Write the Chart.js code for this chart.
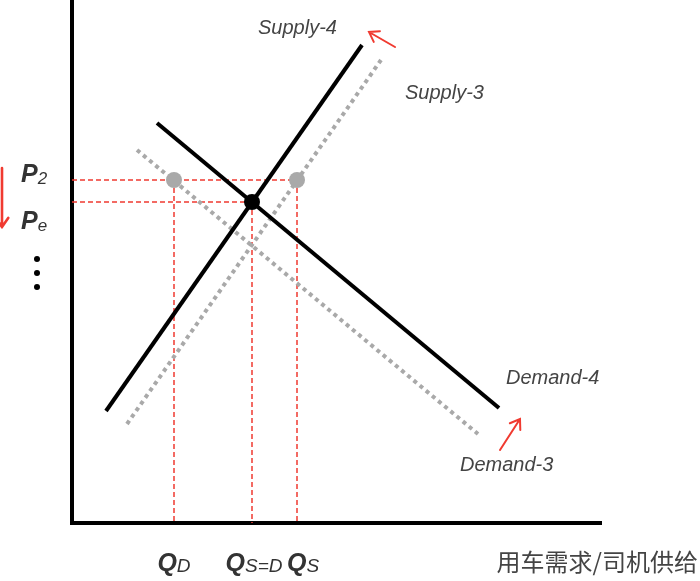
<!DOCTYPE html>
<html>
<head>
<meta charset="utf-8">
<script src="https://cdn.jsdelivr.net/npm/chart.js@4/dist/chart.umd.min.js"></script>
<style>
  body { margin: 0; background: #fff; }
  #wrap { width: 700px; height: 581px; position: relative; }
</style>
</head>
<body>
<div id="wrap"><canvas id="chart"></canvas></div>
<script>
// Axis ranges (data units)
const xMax = 530;
const yMax = 523;

// Curves: two end points each
const supply4 = [{x: 34, y: 112}, {x: 290, y: 478}];
const demand4 = [{x: 85, y: 400}, {x: 427, y: 115}];
const supply3 = [{x: 55, y: 99}, {x: 309, y: 463}];
const demand3 = [{x: 65, y: 373}, {x: 406, y: 89}];

// Tick labels on the axes
const priceSubs = ['2', 'e'];
const priceValues = [343, 321];
const qtySubs = ['D', 'S=D', 'S'];
const qtyValues = [102, 180, 225];

const curveNames = ['Supply-4', 'Supply-3', 'Demand-4', 'Demand-3'];
const axisTitle = '用车需求/司机供给';

// Points
const equilibrium = [{x: qtyValues[1], y: priceValues[1]}];
const shifted = [{x: qtyValues[0], y: priceValues[0]}, {x: qtyValues[2], y: priceValues[0]}];

const RED = '#f03a30';
const GREY = '#a9a9a9';

function redLine(pts) {
    return {
        data: pts, showLine: true, pointRadius: 0, borderColor: RED,
        borderWidth: 1.5, borderDash: [5, 3], order: 3, clip: false
    };
}

const datasets = [
    { data: equilibrium, pointRadius: 8, backgroundColor: '#000', borderWidth: 0, order: 0 },
    { data: shifted, pointRadius: 8, backgroundColor: GREY, borderWidth: 0, order: 0 },
    { data: supply4, showLine: true, pointRadius: 0, borderColor: '#000', borderWidth: 4, order: 1 },
    { data: demand4, showLine: true, pointRadius: 0, borderColor: '#000', borderWidth: 4, order: 1 },
    { data: supply3, showLine: true, pointRadius: 0, borderColor: GREY, borderWidth: 4, borderDash: [4, 4], order: 2 },
    { data: demand3, showLine: true, pointRadius: 0, borderColor: GREY, borderWidth: 4, borderDash: [4, 4], order: 2 },
    // dashed guides
    redLine([{x: 0, y: priceValues[0]}, {x: qtyValues[2], y: priceValues[0]}]),
    redLine([{x: 0, y: priceValues[1]}, {x: qtyValues[1], y: priceValues[1]}]),
    redLine([{x: qtyValues[0], y: priceValues[0]}, {x: qtyValues[0], y: 0}]),
    redLine([{x: qtyValues[1], y: priceValues[1]}, {x: qtyValues[1], y: 0}]),
    redLine([{x: qtyValues[2], y: priceValues[0]}, {x: qtyValues[2], y: 0}]),
    // axes
    { data: [{x: 0, y: yMax + 4}, {x: 0, y: 0}, {x: xMax, y: 0}], showLine: true, pointRadius: 0,
      borderColor: '#000', borderWidth: 4, borderJoinStyle: 'miter', order: 4, clip: false }
];

function arrow(ctx, x1, y1, x2, y2) {
    const a = Math.atan2(y2 - y1, x2 - x1);
    const h = 11;
    ctx.beginPath();
    ctx.moveTo(x1, y1);
    ctx.lineTo(x2, y2);
    ctx.moveTo(x2 - h * Math.cos(a - 0.6), y2 - h * Math.sin(a - 0.6));
    ctx.lineTo(x2, y2);
    ctx.lineTo(x2 - h * Math.cos(a + 0.6), y2 - h * Math.sin(a + 0.6));
    ctx.stroke();
}

const labelsPlugin = {
    id: 'labels',
    afterDatasetsDraw(chart) {
        const ctx = chart.ctx;
        const px = v => chart.scales.x.getPixelForValue(v);
        const py = v => chart.scales.y.getPixelForValue(v);
        ctx.save();

        // price labels P2 / Pe
        const pOffsets = [2, 27];
        ctx.fillStyle = '#333';
        ctx.textBaseline = 'alphabetic';
        priceSubs.forEach((s, i) => {
            const base = py(priceValues[i]) + pOffsets[i];
            ctx.font = 'italic bold 25px "Liberation Sans", Arial, sans-serif';
            ctx.textAlign = 'left';
            ctx.fillText('P', 21, base);
            const w = ctx.measureText('P').width;
            ctx.font = 'italic 17px "Liberation Sans", Arial, sans-serif';
            ctx.fillText(s, 21 + w, base + 2);
        });

        // vertical ellipsis under the price labels
        ctx.fillStyle = '#000';
        [259, 273, 287].forEach(y => {
            ctx.beginPath();
            ctx.arc(37, y, 3, 0, Math.PI * 2);
            ctx.fill();
        });

        // quantity labels
        const qShift = [0, 2, 6];
        qtySubs.forEach((s, i) => {
            ctx.font = 'italic bold 25px "Liberation Sans", Arial, sans-serif';
            const wq = ctx.measureText('Q').width;
            ctx.font = 'italic 19px "Liberation Sans", Arial, sans-serif';
            const ws = ctx.measureText(s).width;
            const left = px(qtyValues[i]) - (wq + ws) / 2 + qShift[i];
            const base = 571;
            ctx.fillStyle = '#333';
            ctx.font = 'italic bold 25px "Liberation Sans", Arial, sans-serif';
            ctx.fillText('Q', left, base);
            ctx.font = 'italic 19px "Liberation Sans", Arial, sans-serif';
            ctx.fillText(s, left + wq, base + 1);
        });

        // x axis title
        ctx.font = '24px "Noto Sans CJK SC", sans-serif';
        ctx.fillStyle = '#444';
        ctx.textAlign = 'right';
        ctx.textBaseline = 'middle';
        ctx.fillText(axisTitle, 698, 562);

        // curve names
        const namePos = [[186, 495], [333, 430], [434, 145], [388, 58]];
        ctx.font = 'italic 20px "Liberation Sans", Arial, sans-serif';
        ctx.textAlign = 'left';
        curveNames.forEach((n, i) => {
            ctx.fillText(n, px(namePos[i][0]), py(namePos[i][1]));
        });

        // red shift arrows
        ctx.strokeStyle = RED;
        ctx.lineWidth = 2;
        ctx.lineCap = 'round';
        arrow(ctx, px(323), py(476), px(297), py(491));
        arrow(ctx, px(428), py(73), px(448), py(104));
        ctx.lineWidth = 2.6;
        arrow(ctx, 2, 168, 2, 227);
        ctx.restore();
    }
};

new Chart(document.getElementById('chart'), {
    type: 'scatter',
    data: { datasets: datasets },
    options: {
        responsive: true,
        maintainAspectRatio: false,
        animation: false,
        layout: { autoPadding: false, padding: { left: 72, right: 98, top: 0, bottom: 58 } },
        plugins: { legend: { display: false }, tooltip: { enabled: false } },
        scales: {
            x: { type: 'linear', min: 0, max: xMax, display: false },
            y: { type: 'linear', min: 0, max: yMax, display: false }
        }
    },
    plugins: [labelsPlugin]
});
</script>
</body>
</html>
